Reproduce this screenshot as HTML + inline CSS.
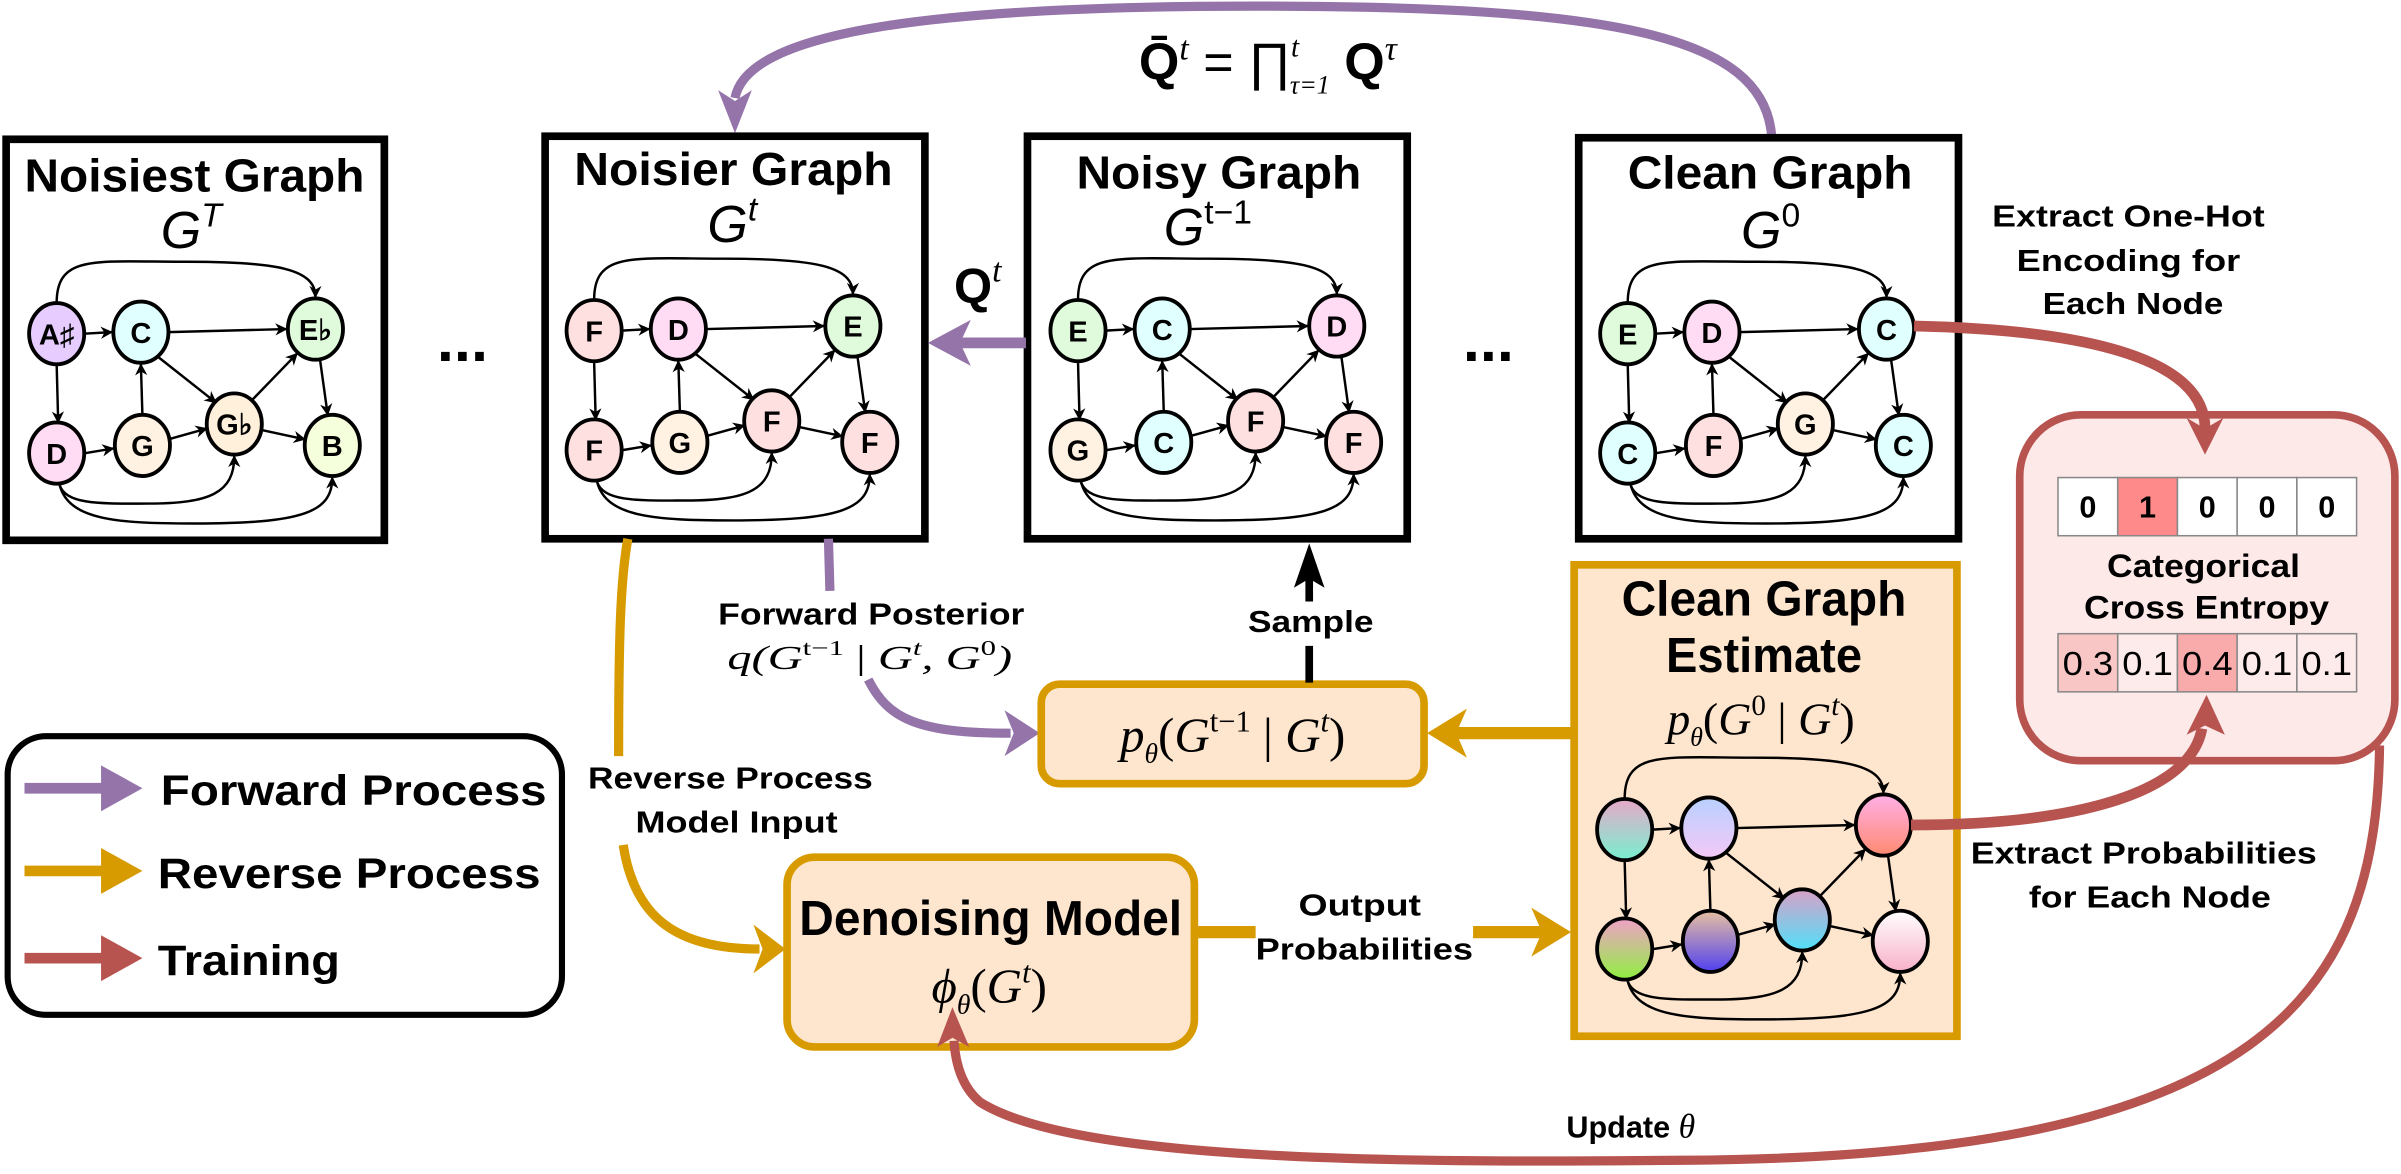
<!DOCTYPE html>
<html><head><meta charset="utf-8">
<style>
html,body{margin:0;padding:0;background:#fff;}
svg{display:block;}
text{font-family:"Liberation Sans",sans-serif;}
.m{font-family:"Liberation Serif",serif;font-style:italic;}
.nl{font-weight:bold;font-size:19px;text-anchor:middle;}
</style></head>
<body>
<svg width="2401" height="1174" viewBox="0 0 1568 767" preserveAspectRatio="none" xmlns="http://www.w3.org/2000/svg">
<defs>
<marker id="ah" viewBox="0 0 10 10" refX="9" refY="5" markerWidth="8" markerHeight="8" markerUnits="userSpaceOnUse" orient="auto"><path d="M0,0 L10,5 L0,10 L3,5z" fill="#000"/></marker>
<g id="edges" fill="none" stroke="#000" stroke-width="1.6">
<path d="M0,-20 C0,-52 25,-47 85,-47 C145,-47 169,-42 169,-24" marker-end="url(#ah)"/>
<path d="M2,99 C6,112 30,111 60,111 C100,111 116,104 116,80" marker-end="url(#ah)"/>
<path d="M2,99 C8,122 40,124 90,124 C160,124 180,117 180,94" marker-end="url(#ah)"/>
<line x1="18" y1="0" x2="36" y2="-1" marker-end="url(#ah)"/>
<line x1="73" y1="-1" x2="150" y2="-3" marker-end="url(#ah)"/>
<line x1="0" y1="20" x2="1" y2="58" marker-end="url(#ah)"/>
<line x1="19" y1="78" x2="37" y2="75" marker-end="url(#ah)"/>
<line x1="56" y1="53" x2="55" y2="20" marker-end="url(#ah)"/>
<line x1="66" y1="15" x2="104" y2="45" marker-end="url(#ah)"/>
<line x1="73" y1="69" x2="98" y2="62" marker-end="url(#ah)"/>
<line x1="127" y1="44" x2="157" y2="13" marker-end="url(#ah)"/>
<line x1="134" y1="63" x2="162" y2="69" marker-end="url(#ah)"/>
<line x1="172" y1="17" x2="177" y2="53" marker-end="url(#ah)"/>
</g>
<linearGradient id="g1" x1="0" y1="0" x2="0" y2="1"><stop offset="0" stop-color="#e8a8c8"/><stop offset="1" stop-color="#78f0d0"/></linearGradient>
<linearGradient id="g2" x1="0" y1="0" x2="0" y2="1"><stop offset="0" stop-color="#b8d0ff"/><stop offset="1" stop-color="#f4c8f8"/></linearGradient>
<linearGradient id="g3" x1="0" y1="0" x2="0" y2="1"><stop offset="0" stop-color="#ffb0e8"/><stop offset="1" stop-color="#ff8a70"/></linearGradient>
<linearGradient id="g4" x1="0" y1="0" x2="0" y2="1"><stop offset="0" stop-color="#f0a0c8"/><stop offset="1" stop-color="#90f040"/></linearGradient>
<linearGradient id="g5" x1="0" y1="0" x2="0" y2="1"><stop offset="0" stop-color="#e8c0a0"/><stop offset="1" stop-color="#5040f0"/></linearGradient>
<linearGradient id="g6" x1="0" y1="0" x2="0" y2="1"><stop offset="0" stop-color="#d8a0c8"/><stop offset="1" stop-color="#50e0f8"/></linearGradient>
<linearGradient id="g7" x1="0" y1="0" x2="0" y2="1"><stop offset="0" stop-color="#ffffff"/><stop offset="1" stop-color="#f8b0c8"/></linearGradient>
</defs>

<path d="M1157,89 C1152,22 1050,4 820,4 C600,4 488,22 480,64" fill="none" stroke="#9474a9" stroke-width="6"/>
<path d="M469,59 L480,87 L491,59 L480,66z" fill="#9474a9"/>
<text x="828" y="52" text-anchor="middle" font-family="Liberation Serif" font-size="34"><tspan font-weight="bold">Q̄</tspan><tspan class="m" font-size="22" dy="-13">t</tspan><tspan dy="13"> = ∏</tspan><tspan class="m" font-size="19" dy="-15">t</tspan><tspan class="m" font-size="17" dx="-6" dy="24">τ=1</tspan><tspan dy="-9" font-weight="bold"> Q</tspan><tspan class="m" font-size="22" dy="-13">τ</tspan></text>

<g fill="#fff" stroke="#000" stroke-width="5">
<rect x="4" y="91" width="247" height="262"/>
<rect x="356" y="89" width="248" height="263"/>
<rect x="671" y="89" width="248" height="263"/>
<rect x="1031" y="90" width="248" height="262"/>
</g>
<g font-weight="bold" font-size="30" text-anchor="middle">
<text x="127" y="125" textLength="222" lengthAdjust="spacingAndGlyphs">Noisiest Graph</text>
<text x="479" y="121" textLength="208" lengthAdjust="spacingAndGlyphs">Noisier Graph</text>
<text x="796" y="123" textLength="186" lengthAdjust="spacingAndGlyphs">Noisy Graph</text>
<text x="1156" y="123" textLength="186" lengthAdjust="spacingAndGlyphs">Clean Graph</text>
</g>
<g class="m" font-size="34">
<text x="105" y="162">G<tspan font-size="22" dy="-14">T</tspan></text>
<text x="462" y="158">G<tspan font-size="22" dy="-14">t</tspan></text>
<text x="760" y="160">G<tspan font-size="22" dy="-14" style="font-style:normal">t−1</tspan></text>
<text x="1137" y="162">G<tspan font-size="22" dy="-14" style="font-style:normal">0</tspan></text>
</g>

<text x="302" y="236" text-anchor="middle" font-weight="bold" font-size="40">...</text>
<text x="972" y="236" text-anchor="middle" font-weight="bold" font-size="40">...</text>

<line x1="670" y1="224" x2="626" y2="224" stroke="#9474a9" stroke-width="7"/>
<path d="M634,209 L606,224 L634,239 L627,224z" fill="#9474a9"/>
<text x="623" y="198" font-family="Liberation Serif" font-weight="bold" font-size="32">Q<tspan class="m" font-weight="normal" font-size="22" dy="-14">t</tspan></text>

<g transform="translate(37,218)">
<use href="#edges"/>
<g stroke="#000" stroke-width="2.5">
<ellipse cx="0" cy="0" rx="18" ry="20" fill="#e6ccff"/>
<ellipse cx="55" cy="-1" rx="18" ry="20" fill="#e0ffff"/>
<ellipse cx="169" cy="-3" rx="18" ry="20" fill="#e0fbdc"/>
<ellipse cx="0" cy="78" rx="18" ry="20" fill="#ffdcf4"/>
<ellipse cx="56" cy="73" rx="18" ry="20" fill="#fff2e2"/>
<ellipse cx="116" cy="59" rx="18" ry="20" fill="#fff0dc"/>
<ellipse cx="180" cy="73" rx="18" ry="20" fill="#f6ffdc"/>
</g>
<g class="nl"><text x="0" y="7">A♯</text><text x="55" y="6">C</text><text x="169" y="4">E♭</text><text x="0" y="85">D</text><text x="56" y="80">G</text><text x="116" y="66">G♭</text><text x="180" y="80">B</text></g>
</g>
<g transform="translate(388,216)">
<use href="#edges"/>
<g stroke="#000" stroke-width="2.5">
<ellipse cx="0" cy="0" rx="18" ry="20" fill="#ffe0e0"/>
<ellipse cx="55" cy="-1" rx="18" ry="20" fill="#ffdcf4"/>
<ellipse cx="169" cy="-3" rx="18" ry="20" fill="#e0fbdc"/>
<ellipse cx="0" cy="78" rx="18" ry="20" fill="#ffe0e0"/>
<ellipse cx="56" cy="73" rx="18" ry="20" fill="#fff2e2"/>
<ellipse cx="116" cy="59" rx="18" ry="20" fill="#ffe0e0"/>
<ellipse cx="180" cy="73" rx="18" ry="20" fill="#ffe0e0"/>
</g>
<g class="nl"><text x="0" y="7">F</text><text x="55" y="6">D</text><text x="169" y="4">E</text><text x="0" y="85">F</text><text x="56" y="80">G</text><text x="116" y="66">F</text><text x="180" y="80">F</text></g>
</g>
<g transform="translate(704,216)">
<use href="#edges"/>
<g stroke="#000" stroke-width="2.5">
<ellipse cx="0" cy="0" rx="18" ry="20" fill="#e0fbdc"/>
<ellipse cx="55" cy="-1" rx="18" ry="20" fill="#e0ffff"/>
<ellipse cx="169" cy="-3" rx="18" ry="20" fill="#ffdcf4"/>
<ellipse cx="0" cy="78" rx="18" ry="20" fill="#fff2e2"/>
<ellipse cx="56" cy="73" rx="18" ry="20" fill="#e0ffff"/>
<ellipse cx="116" cy="59" rx="18" ry="20" fill="#ffe0e0"/>
<ellipse cx="180" cy="73" rx="18" ry="20" fill="#ffe0e0"/>
</g>
<g class="nl"><text x="0" y="7">E</text><text x="55" y="6">C</text><text x="169" y="4">D</text><text x="0" y="85">G</text><text x="56" y="80">C</text><text x="116" y="66">F</text><text x="180" y="80">F</text></g>
</g>
<g transform="translate(1063,218)">
<use href="#edges"/>
<g stroke="#000" stroke-width="2.5">
<ellipse cx="0" cy="0" rx="18" ry="20" fill="#e0fbdc"/>
<ellipse cx="55" cy="-1" rx="18" ry="20" fill="#ffdcf4"/>
<ellipse cx="169" cy="-3" rx="18" ry="20" fill="#e0ffff"/>
<ellipse cx="0" cy="78" rx="18" ry="20" fill="#e0ffff"/>
<ellipse cx="56" cy="73" rx="18" ry="20" fill="#ffe0e0"/>
<ellipse cx="116" cy="59" rx="18" ry="20" fill="#fff2e2"/>
<ellipse cx="180" cy="73" rx="18" ry="20" fill="#e0ffff"/>
</g>
<g class="nl"><text x="0" y="7">E</text><text x="55" y="6">D</text><text x="169" y="4">C</text><text x="0" y="85">C</text><text x="56" y="80">F</text><text x="116" y="66">G</text><text x="180" y="80">C</text></g>
</g>

<g font-weight="bold" font-size="20" text-anchor="middle">
<text x="1390" y="148" textLength="178" lengthAdjust="spacingAndGlyphs">Extract One-Hot</text>
<text x="1390" y="177" textLength="146" lengthAdjust="spacingAndGlyphs">Encoding for</text>
<text x="1393" y="205" textLength="118" lengthAdjust="spacingAndGlyphs">Each Node</text>
</g>

<rect x="1319" y="271" width="245" height="226" rx="40" fill="#fee9e9" stroke="#b85450" stroke-width="5"/>
<g stroke="#888" stroke-width="1">
<rect x="1344" y="312" width="39" height="38" fill="#fff"/>
<rect x="1383" y="312" width="39" height="38" fill="#ff8a8a"/>
<rect x="1422" y="312" width="39" height="38" fill="#fff"/>
<rect x="1461" y="312" width="39" height="38" fill="#fff"/>
<rect x="1500" y="312" width="39" height="38" fill="#fff"/>
<rect x="1344" y="414" width="39" height="38" fill="#f9c6c6"/>
<rect x="1383" y="414" width="39" height="38" fill="#fdeaea"/>
<rect x="1422" y="414" width="39" height="38" fill="#f9aaaa"/>
<rect x="1461" y="414" width="39" height="38" fill="#fdeaea"/>
<rect x="1500" y="414" width="39" height="38" fill="#fdeaea"/>
</g>
<g font-weight="bold" font-size="20" text-anchor="middle">
<text x="1363.5" y="338">0</text><text x="1402.5" y="338">1</text><text x="1441.5" y="338">0</text><text x="1480.5" y="338">0</text><text x="1519.5" y="338">0</text>
</g>
<g font-size="22" text-anchor="middle">
<text x="1363.5" y="441" textLength="33" lengthAdjust="spacingAndGlyphs">0.3</text>
<text x="1402.5" y="441" textLength="33" lengthAdjust="spacingAndGlyphs">0.1</text>
<text x="1441.5" y="441" textLength="33" lengthAdjust="spacingAndGlyphs">0.4</text>
<text x="1480.5" y="441" textLength="33" lengthAdjust="spacingAndGlyphs">0.1</text>
<text x="1519.5" y="441" textLength="33" lengthAdjust="spacingAndGlyphs">0.1</text>
</g>
<g font-weight="bold" font-size="21" text-anchor="middle">
<text x="1439" y="377" textLength="126" lengthAdjust="spacingAndGlyphs">Categorical</text>
<text x="1441" y="404" textLength="160" lengthAdjust="spacingAndGlyphs">Cross Entropy</text>
</g>

<path d="M1250,213 C1340,215 1440,228 1440,280" fill="none" stroke="#b85450" stroke-width="7"/>
<path d="M1428,273 L1440,297 L1452,273 L1440,280z" fill="#b85450"/>

<rect x="5" y="481" width="362" height="182" rx="25" fill="#fff" stroke="#000" stroke-width="4"/>
<line x1="16" y1="515" x2="72" y2="515" stroke="#9474a9" stroke-width="7"/>
<path d="M66,500 L93,515 L66,530z" fill="#9474a9"/>
<line x1="16" y1="569" x2="72" y2="569" stroke="#d79b00" stroke-width="7"/>
<path d="M66,554 L93,569 L66,584z" fill="#d79b00"/>
<line x1="16" y1="626" x2="72" y2="626" stroke="#b85450" stroke-width="7"/>
<path d="M66,611 L93,626 L66,641z" fill="#b85450"/>
<g font-weight="bold" font-size="28">
<text x="105" y="526" textLength="252" lengthAdjust="spacingAndGlyphs">Forward Process</text>
<text x="103" y="580" textLength="250" lengthAdjust="spacingAndGlyphs">Reverse Process</text>
<text x="103" y="637" textLength="119" lengthAdjust="spacingAndGlyphs">Training</text>
</g>

<path d="M410,352 C405,380 404,420 404,494" fill="none" stroke="#d79b00" stroke-width="6"/>
<path d="M407,552 C414,598 440,620 496,620" fill="none" stroke="#d79b00" stroke-width="6"/>
<path d="M492,604 L513,620 L492,636 L498,620z" fill="#d79b00"/>
<g font-weight="bold" font-size="20" text-anchor="middle">
<text x="477" y="515" textLength="186" lengthAdjust="spacingAndGlyphs">Reverse Process</text>
<text x="481" y="544" textLength="132" lengthAdjust="spacingAndGlyphs">Model Input</text>
</g>

<line x1="541" y1="352" x2="542" y2="386" stroke="#9474a9" stroke-width="6"/>
<text x="569" y="408" text-anchor="middle" font-weight="bold" font-size="20" textLength="200" lengthAdjust="spacingAndGlyphs">Forward Posterior</text>
<text x="568" y="437" text-anchor="middle" class="m" font-size="22" textLength="186" lengthAdjust="spacingAndGlyphs">q(G<tspan font-size="14" dy="-9" style="font-style:normal">t−1</tspan><tspan dy="9" style="font-style:normal"> | </tspan>G<tspan font-size="14" dy="-9">t</tspan><tspan dy="9">, G</tspan><tspan font-size="14" dy="-9" style="font-style:normal">0</tspan><tspan dy="9">)</tspan></text>
<path d="M567,444 C580,470 600,479 660,479" fill="none" stroke="#9474a9" stroke-width="6"/>
<path d="M656,464 L679,479 L656,494 L662,479z" fill="#9474a9"/>

<rect x="680" y="447" width="250" height="65" rx="12" fill="#fee5cd" stroke="#d79b00" stroke-width="5"/>
<text x="805" y="491" text-anchor="middle" class="m" font-size="32">p<tspan font-size="18" dy="7">θ</tspan><tspan dy="-7" style="font-style:normal">(</tspan>G<tspan font-size="20" dy="-13" style="font-style:normal">t−1</tspan><tspan dy="13" style="font-style:normal"> | </tspan>G<tspan font-size="20" dy="-13">t</tspan><tspan dy="13" style="font-style:normal">)</tspan></text>

<line x1="855" y1="446" x2="855" y2="422" stroke="#000" stroke-width="5"/>
<line x1="855" y1="393" x2="855" y2="374" stroke="#000" stroke-width="5"/>
<path d="M845,384 L855,355 L865,384 L855,378z" fill="#000"/>
<text x="856" y="413" text-anchor="middle" font-weight="bold" font-size="20" textLength="82" lengthAdjust="spacingAndGlyphs">Sample</text>

<line x1="1027" y1="479" x2="950" y2="479" stroke="#d79b00" stroke-width="8"/>
<path d="M958,463 L932,479 L958,495 L951,479z" fill="#d79b00"/>

<rect x="514" y="560" width="266" height="124" rx="18" fill="#fee5cd" stroke="#d79b00" stroke-width="5"/>
<text x="647" y="611" text-anchor="middle" font-weight="bold" font-size="32" textLength="250" lengthAdjust="spacingAndGlyphs">Denoising Model</text>
<text x="646" y="655" text-anchor="middle" class="m" font-size="32">ϕ<tspan font-size="18" dy="7">θ</tspan><tspan dy="-7" style="font-style:normal">(</tspan>G<tspan font-size="20" dy="-13">t</tspan><tspan dy="13" style="font-style:normal">)</tspan></text>

<line x1="780" y1="609" x2="820" y2="609" stroke="#d79b00" stroke-width="8"/>
<line x1="962" y1="609" x2="1008" y2="609" stroke="#d79b00" stroke-width="8"/>
<path d="M1000,593 L1026,609 L1000,625 L1007,609z" fill="#d79b00"/>
<g font-weight="bold" font-size="20" text-anchor="middle">
<text x="888" y="598" textLength="80" lengthAdjust="spacingAndGlyphs">Output</text>
<text x="891" y="627" textLength="142" lengthAdjust="spacingAndGlyphs">Probabilities</text>
</g>

<rect x="1028" y="369" width="250" height="308" fill="#fee5cd" stroke="#d79b00" stroke-width="5"/>
<g font-weight="bold" font-size="32" text-anchor="middle">
<text x="1152" y="402" textLength="186" lengthAdjust="spacingAndGlyphs">Clean Graph</text>
<text x="1152" y="439" textLength="128" lengthAdjust="spacingAndGlyphs">Estimate</text>
</g>
<text x="1150" y="480" text-anchor="middle" class="m" font-size="30">p<tspan font-size="17" dy="7">θ</tspan><tspan dy="-7" style="font-style:normal">(</tspan>G<tspan font-size="19" dy="-13" style="font-style:normal">0</tspan><tspan dy="13" style="font-style:normal"> | </tspan>G<tspan font-size="19" dy="-13">t</tspan><tspan dy="13" style="font-style:normal">)</tspan></text>
<g transform="translate(1061,542)">
<use href="#edges"/>
<g stroke="#000" stroke-width="2.5">
<ellipse cx="0" cy="0" rx="18" ry="20" fill="url(#g1)"/>
<ellipse cx="55" cy="-1" rx="18" ry="20" fill="url(#g2)"/>
<ellipse cx="169" cy="-3" rx="18" ry="20" fill="url(#g3)"/>
<ellipse cx="0" cy="78" rx="18" ry="20" fill="url(#g4)"/>
<ellipse cx="56" cy="73" rx="18" ry="20" fill="url(#g5)"/>
<ellipse cx="116" cy="59" rx="18" ry="20" fill="url(#g6)"/>
<ellipse cx="180" cy="73" rx="18" ry="20" fill="url(#g7)"/>
</g>
</g>

<path d="M1248,539 C1350,539 1430,520 1438,476" fill="none" stroke="#b85450" stroke-width="7"/>
<path d="M1428,480 L1441,454 L1453,480 L1440,474z" fill="#b85450"/>
<g font-weight="bold" font-size="20" text-anchor="middle">
<text x="1400" y="564" textLength="226" lengthAdjust="spacingAndGlyphs">Extract Probabilities</text>
<text x="1404" y="593" textLength="158" lengthAdjust="spacingAndGlyphs">for Each Node</text>
</g>

<path d="M1554,487 C1552,650 1480,756 1100,758 C900,760 700,758 640,720 C628,710 624,695 623,680" fill="none" stroke="#b85450" stroke-width="6"/>
<path d="M612,684 L622,658 L633,684 L622,678z" fill="#b85450"/>
<text x="1065" y="743" text-anchor="middle" font-weight="bold" font-size="20">Update <tspan class="m" font-weight="normal" font-size="22">θ</tspan></text>
</svg>
</body></html>
